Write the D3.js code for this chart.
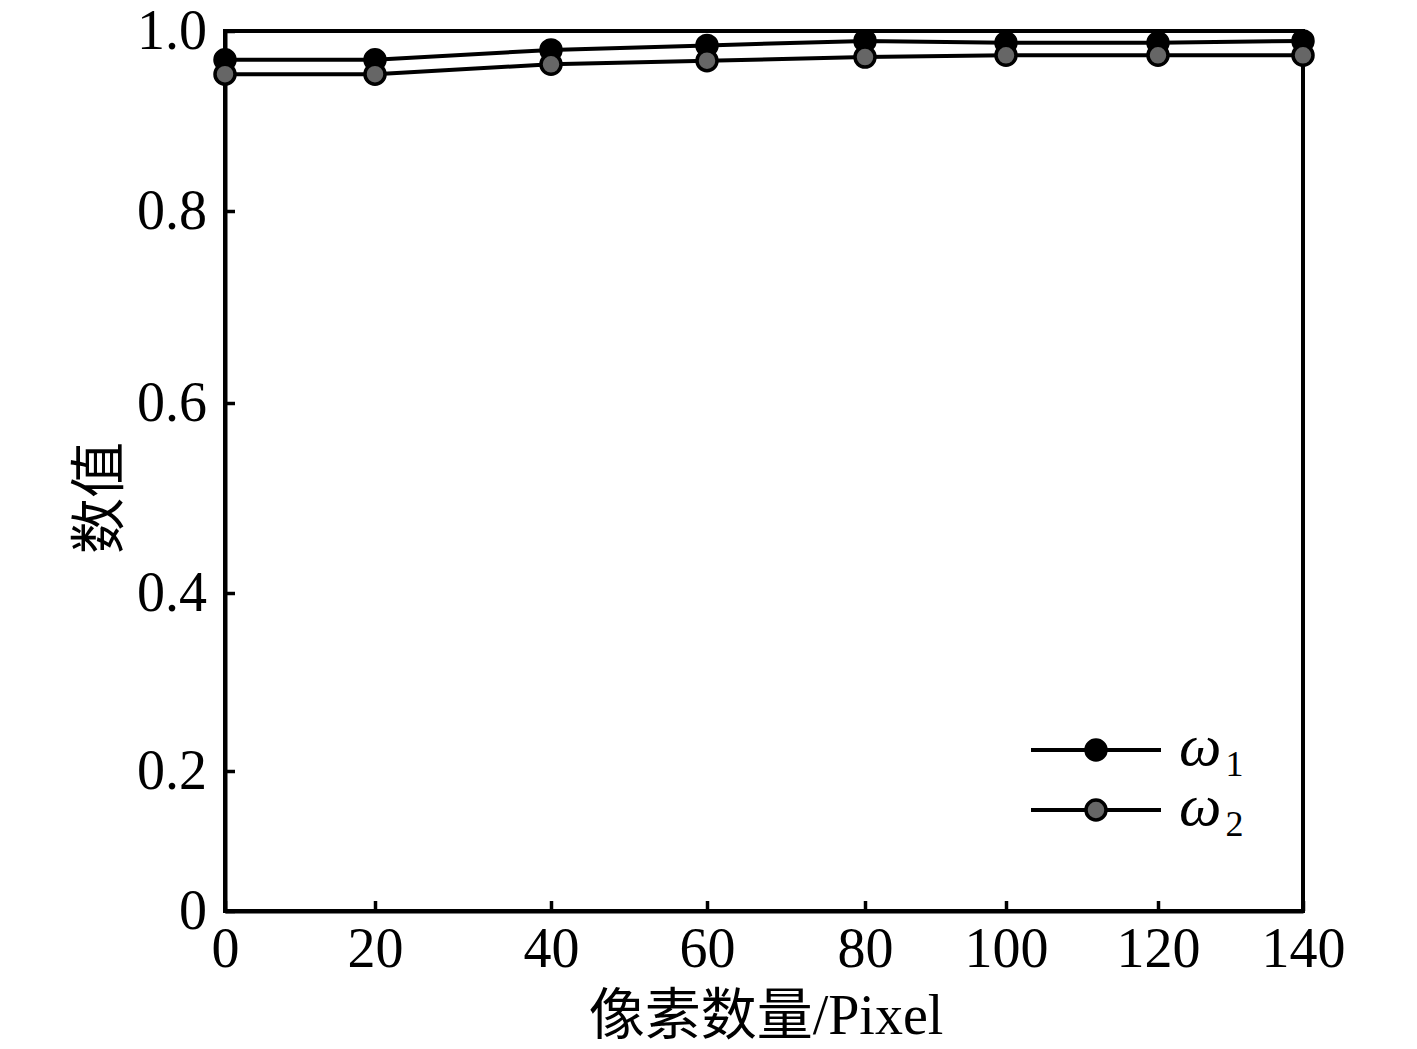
<!DOCTYPE html>
<html>
<head>
<meta charset="utf-8">
<script src="https://cdn.jsdelivr.net/npm/d3@7"></script>
<style>
  body { margin: 0; background: #fff; }
  text { font-family: "Liberation Serif", "Times New Roman", "Noto Sans CJK SC", serif; fill: #000; }
</style>
</head>
<body>
<div id="chart"></div>
<script>
// pixel counts on the x axis
var pixels = [0, 20, 40, 60, 80, 100, 120, 140];
// omega 1 (black) and omega 2 (grey)
var omega1 = [0.968, 0.968, 0.979, 0.984, 0.989, 0.987, 0.987, 0.989];
var omega2 = [0.952, 0.952, 0.963, 0.967, 0.971, 0.973, 0.973, 0.973];
var yTicks = [0, 0.2, 0.4, 0.6, 0.8, 1.0];
var seriesNames = ["1", "2"];

var width = 1417,
    height = 1049;

var svg = d3.select("#chart")
    .append("svg")
    .attr("width", width)
    .attr("height", height);

// the original figure has uneven tick spacing, so use piecewise scales
var x = d3.scaleLinear()
    .domain(pixels)
    .range([225, 375, 551, 707, 865, 1006, 1158, 1303]);

var y = d3.scaleLinear()
    .domain(yTicks)
    .range([911, 771, 593, 403, 211, 31]);

// frame
svg.append("rect")
    .attr("x", x(0))
    .attr("y", y(1))
    .attr("width", x(140) - x(0))
    .attr("height", y(0) - y(1))
    .style("fill", "none")
    .style("stroke", "#000")
    .style("stroke-width", 4);

var xAxis = svg.append("g")
    .attr("transform", "translate(0," + y(0) + ")")
    .call(d3.axisBottom(x)
        .tickValues(pixels)
        .tickFormat(d3.format("d"))
        .tickSizeInner(-10)
        .tickSizeOuter(0)
        .tickPadding(16));

var yAxis = svg.append("g")
    .attr("transform", "translate(" + x(0) + ",0)")
    .call(d3.axisLeft(y)
        .tickValues(yTicks)
        .tickFormat(function(d) { return d === 0 ? "0" : d3.format(".1f")(d); })
        .tickSizeInner(-10)
        .tickSizeOuter(0)
        .tickPadding(18));

[xAxis, yAxis].forEach(function(g) {
    g.select(".domain").style("stroke", "#000").style("stroke-width", 4);
    g.selectAll(".tick line").style("stroke", "#000").style("stroke-width", 3.5);
    g.selectAll(".tick text")
        .style("font-family", "'Liberation Serif', 'Times New Roman', serif")
        .style("font-size", "56px")
        .style("fill", "#000");
});

// axis titles
svg.append("text")
    .attr("x", 766)
    .attr("y", 1034)
    .attr("text-anchor", "middle")
    .style("font-size", "56px")
    .text("像素数量/Pixel");

svg.append("text")
    .attr("transform", "translate(118,498) rotate(-90)")
    .attr("text-anchor", "middle")
    .style("font-size", "56px")
    .text("数值");

// series
var series = [
    { name: seriesNames[0], values: omega1, fill: "#000" },
    { name: seriesNames[1], values: omega2, fill: "#666" }
];

var line = d3.line()
    .x(function(d, i) { return x(pixels[i]); })
    .y(function(d) { return y(d); });

series.forEach(function(s) {
    svg.append("path")
        .datum(s.values)
        .attr("d", line)
        .style("fill", "none")
        .style("stroke", "#000")
        .style("stroke-width", 4);
});

series.forEach(function(s) {
    svg.append("g")
        .selectAll("circle")
        .data(s.values)
        .enter().append("circle")
        .attr("cx", function(d, i) { return x(pixels[i]); })
        .attr("cy", function(d) { return y(d); })
        .attr("r", 10)
        .style("fill", s.fill)
        .style("stroke", "#000")
        .style("stroke-width", 3.5);
});

// legend
var legend = svg.append("g")
    .attr("transform", "translate(1031,750)");

var item = legend.selectAll("g")
    .data(series)
    .enter().append("g")
    .attr("transform", function(d, i) { return "translate(0," + i * 60 + ")"; });

item.append("line")
    .attr("x1", 0)
    .attr("x2", 130)
    .style("stroke", "#000")
    .style("stroke-width", 4);

item.append("circle")
    .attr("cx", 65)
    .attr("r", 10)
    .style("fill", function(d) { return d.fill; })
    .style("stroke", "#000")
    .style("stroke-width", 3.5);

var label = item.append("text")
    .attr("x", 148)
    .attr("y", 15)
    .style("font-size", "60px");

label.append("tspan")
    .style("font-style", "italic")
    .text("ω");

label.append("tspan")
    .attr("dx", 4)
    .attr("dy", 11)
    .style("font-size", "36px")
    .text(function(d) { return d.name; });
</script>
</body>
</html>
